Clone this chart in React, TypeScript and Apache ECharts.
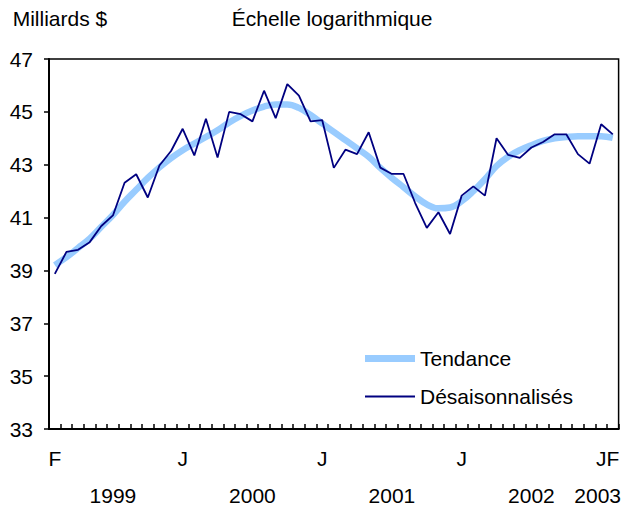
import React, { useEffect, useRef } from 'react';
import * as echarts from 'echarts';

const months: string[] = [
  '1999-02', '1999-03', '1999-04', '1999-05', '1999-06', '1999-07', '1999-08', '1999-09', '1999-10', '1999-11', '1999-12',
  '2000-01', '2000-02', '2000-03', '2000-04', '2000-05', '2000-06', '2000-07', '2000-08', '2000-09', '2000-10', '2000-11', '2000-12',
  '2001-01', '2001-02', '2001-03', '2001-04', '2001-05', '2001-06', '2001-07', '2001-08', '2001-09', '2001-10', '2001-11', '2001-12',
  '2002-01', '2002-02', '2002-03', '2002-04', '2002-05', '2002-06', '2002-07', '2002-08', '2002-09', '2002-10', '2002-11', '2002-12',
  '2003-01', '2003-02',
];

const tendance: number[] = [
  39.2, 39.5, 39.85, 40.2, 40.65, 41.1, 41.6, 42.05, 42.5, 42.9, 43.25,
  43.55, 43.8, 44.05, 44.3, 44.6, 44.85, 45.05, 45.2, 45.28, 45.28, 45.15, 44.88,
  44.56, 44.24, 43.93, 43.62, 43.3, 42.88, 42.5, 42.15, 41.8, 41.5, 41.35, 41.38,
  41.62, 42.0, 42.45, 42.95, 43.3, 43.55, 43.74, 43.9, 44.0, 44.05, 44.08, 44.08,
  44.08, 44.02,
];

const desaisonnalises: number[] = [
  38.87, 39.7, 39.78, 40.07, 40.68, 41.08, 42.32, 42.64, 41.76, 42.97, 43.52,
  44.36, 43.35, 44.74, 43.27, 45.0, 44.91, 44.64, 45.8, 44.76, 46.05, 45.61, 44.64,
  44.69, 42.88, 43.57, 43.4, 44.23, 42.89, 42.65, 42.65, 41.55, 40.61, 41.2, 40.38,
  41.83, 42.18, 41.83, 44.0, 43.37, 43.26, 43.65, 43.86, 44.15, 44.15, 43.4, 43.04,
  44.53, 44.15,
];

const monthLabels: Record<number, string> = { 0: 'F', 11: 'J', 23: 'J', 35: 'J', 47: 'J', 48: 'F' };
const yearLabels: Record<number, string> = { 5: '1999', 17: '2000', 29: '2001', 41: '2002', 47: '2003' };

const yMin = 33;
const yMax = 47;
const yInterval = 2;

const FONT = "'Liberation Sans', Arial, sans-serif";

export default function App() {
  const ref = useRef<HTMLDivElement>(null);

  useEffect(() => {
    if (!ref.current) return;
    const chart = echarts.init(ref.current, undefined, { renderer: 'svg' });
    const yearAxisData = months.map((m, i) =>
      i === 47 ? { value: m, textStyle: { padding: [0, 7, 0, 0] } } : m
    );
    chart.setOption({
      animation: false,
      textStyle: { fontFamily: FONT },
      graphic: [
        {
          type: 'text',
          x: 12.7,
          y: 18.5,
          style: { text: 'Milliards $', font: `21px ${FONT}`, fill: '#000', textVerticalAlign: 'middle' },
        },
        {
          type: 'text',
          x: 231.7,
          y: 18.5,
          style: { text: 'Échelle logarithmique', font: `21px ${FONT}`, fill: '#000', textVerticalAlign: 'middle' },
        },
      ],
      grid: {
        left: 49,
        right: 3,
        top: 59,
        bottom: 79,
        show: true,
        borderColor: '#000',
        borderWidth: 1.5,
        backgroundColor: 'transparent',
      },
      legend: {
        orient: 'vertical',
        left: 365,
        top: 348,
        padding: 0,
        itemWidth: 50,
        itemHeight: 14,
        itemGap: 17,
        symbolKeepAspect: true,
        textStyle: { fontSize: 21, color: '#000', fontFamily: FONT },
        data: [
          { name: 'Tendance', icon: 'path://M0,0H50V7H0Z' },
          { name: 'Désaisonnalisés', icon: 'path://M0,0H50V2H0Z' },
        ],
      },
      xAxis: [
        {
          type: 'category',
          data: months,
          boundaryGap: true,
          axisLine: { show: true, lineStyle: { color: '#000', width: 2 } },
          axisTick: { show: true, inside: true, length: 5, interval: 0, lineStyle: { color: '#000', width: 1.5 } },
          axisLabel: {
            interval: 0,
            margin: 19,
            fontSize: 21,
            color: '#000',
            fontFamily: FONT,
            formatter: (_v: string, i: number) => monthLabels[i] ?? '',
          },
          splitLine: { show: false },
        },
        {
          type: 'category',
          data: yearAxisData,
          position: 'bottom',
          boundaryGap: true,
          axisLine: { show: false },
          axisTick: { show: false },
          axisLabel: {
            interval: 0,
            margin: 56,
            fontSize: 21,
            color: '#000',
            fontFamily: FONT,
            formatter: (_v: string, i: number) => yearLabels[i] ?? '',
          },
          splitLine: { show: false },
        },
      ],
      yAxis: {
        type: 'value',
        min: yMin,
        max: yMax,
        interval: yInterval,
        axisLine: { show: true, lineStyle: { color: '#000', width: 2 } },
        axisTick: { show: true, length: 5, lineStyle: { color: '#000', width: 1.5 } },
        axisLabel: { margin: 16, fontSize: 21, color: '#000', fontFamily: FONT },
        splitLine: { show: false },
      },
      series: [
        {
          name: 'Tendance',
          type: 'line',
          data: tendance,
          symbol: 'none',
          smooth: 0.4,
          lineStyle: { color: '#99CCFF', width: 6.5 },
          itemStyle: { color: '#99CCFF' },
          z: 2,
        },
        {
          name: 'Désaisonnalisés',
          type: 'line',
          data: desaisonnalises,
          symbol: 'none',
          lineStyle: { color: '#000080', width: 1.8 },
          itemStyle: { color: '#000080' },
          z: 3,
        },
      ],
    });
    return () => chart.dispose();
  }, []);

  return (
    <div
      ref={ref}
      style={{ position: 'fixed', left: 0, top: 0, width: 624, height: 508, background: '#fff' }}
    />
  );
}
